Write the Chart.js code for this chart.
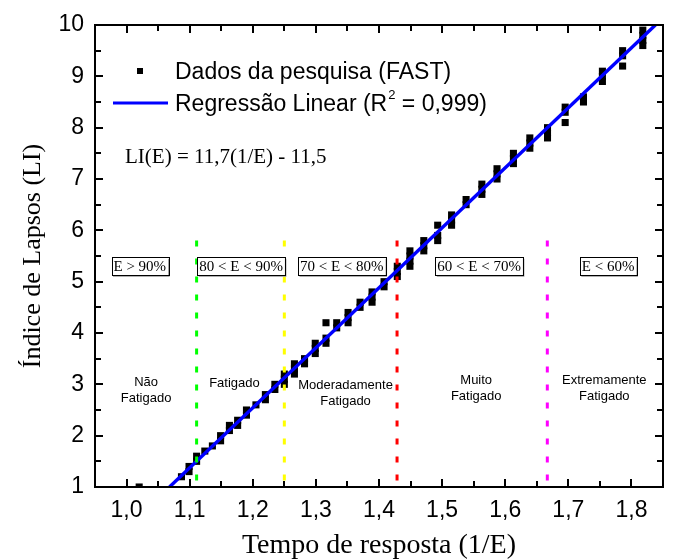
<!DOCTYPE html>
<html>
<head>
<meta charset="utf-8">
<script src="https://cdn.jsdelivr.net/npm/chart.js@4/dist/chart.umd.min.js"></script>
<style>
  body { margin: 0; background: #fff; }
  canvas { display: block; }
</style>
</head>
<body>
<canvas id="chart" width="673" height="560"></canvas>
<script>
// survey points (1/E, LI)
const pointX = [1.020, 1.087, 1.099, 1.099, 1.111, 1.111, 1.124, 1.136, 1.149, 1.149,
  1.163, 1.163, 1.176, 1.176, 1.190, 1.190, 1.205, 1.220, 1.220, 1.235, 1.235,
  1.250, 1.250, 1.250, 1.266, 1.266, 1.266, 1.282, 1.282, 1.299, 1.299, 1.299,
  1.316, 1.316, 1.316, 1.333, 1.333, 1.351, 1.351, 1.351, 1.370, 1.370,
  1.389, 1.389, 1.389, 1.408, 1.408, 1.429, 1.429, 1.429, 1.449, 1.449, 1.449, 1.449,
  1.471, 1.471, 1.471, 1.493, 1.493, 1.493, 1.515, 1.515, 1.515, 1.538, 1.538,
  1.563, 1.563, 1.563, 1.587, 1.587, 1.587, 1.613, 1.613, 1.613, 1.639, 1.639, 1.639,
  1.667, 1.667, 1.667, 1.695, 1.695, 1.695, 1.724, 1.724, 1.754, 1.754, 1.754,
  1.786, 1.786, 1.786, 1.818, 1.818, 1.818, 1.818];
const pointY = [1.0, 1.2, 1.3, 1.4, 1.5, 1.6, 1.7, 1.8, 1.9, 2.0,
  2.1, 2.2, 2.2, 2.3, 2.4, 2.5, 2.6, 2.7, 2.8, 2.9, 3.0,
  3.0, 3.1, 3.2, 3.2, 3.3, 3.4, 3.4, 3.5, 3.6, 3.7, 3.8,
  3.8, 3.9, 4.2, 4.1, 4.2, 4.2, 4.3, 4.4, 4.5, 4.6,
  4.6, 4.7, 4.8, 4.9, 5.0, 5.1, 5.2, 5.3, 5.3, 5.4, 5.5, 5.6,
  5.6, 5.7, 5.8, 5.8, 5.9, 6.1, 6.1, 6.2, 6.3, 6.5, 6.6,
  6.7, 6.8, 6.9, 7.0, 7.1, 7.2, 7.3, 7.4, 7.5, 7.6, 7.7, 7.8,
  7.8, 7.9, 8.0, 8.1, 8.3, 8.4, 8.5, 8.6, 8.9, 9.0, 9.1,
  9.2, 9.4, 9.5, 9.6, 9.7, 9.8, 9.9];

// regression line end points, read where it meets the frame
const fitX = [1.068, 1.838];
const fitY = [1.0, 10.0];

// class limits (1/E) and the top of the dotted lines
const limitX = [1.111, 1.25, 1.4286, 1.6667];
const limitTop = 5.8;

const xTicks = [1.0, 1.1, 1.2, 1.3, 1.4, 1.5, 1.6, 1.7, 1.8];
const xTickLabels = ['1,0', '1,1', '1,2', '1,3', '1,4', '1,5', '1,6', '1,7', '1,8'];
const yTicks = [1, 2, 3, 4, 5, 6, 7, 8, 9, 10];
const yTickLabels = ['1', '2', '3', '4', '5', '6', '7', '8', '9', '10'];

const boxLabels = ['E > 90%', '80 < E < 90%', '70 < E < 80%', '60 < E < 70%', 'E < 60%'];
const classLabels = [['Não', 'Fatigado'], ['Fatigado'], ['Moderadamente', 'Fatigado'],
  ['Muito', 'Fatigado'], ['Extremamente', 'Fatigado']];

const limitColors = ['#00ff00', '#ffff00', '#ff0000', '#ff00ff'];
const SANS = '"Liberation Sans", Arial, sans-serif';
const SERIF = '"Liberation Serif", "Times New Roman", serif';

const datasets = [];
limitX.forEach((v, i) => {
  datasets.push({
    type: 'line',
    data: [{x: v, y: limitTop}, {x: v, y: 1}],
    borderColor: limitColors[i],
    borderWidth: 3,
    borderDash: [6, 12],
    borderCapStyle: 'butt',
    pointRadius: 0,
    order: 0
  });
});
datasets.push({
  type: 'line',
  label: 'Regressão Linear',
  data: fitX.map((v, i) => ({x: v, y: fitY[i]})),
  borderColor: '#0000ff',
  borderWidth: 3.4,
  pointRadius: 0,
  clip: 0,
  order: 1
});
datasets.push({
  type: 'scatter',
  label: 'Dados da pesquisa (FAST)',
  data: pointX.map((v, i) => ({x: v, y: pointY[i]})),
  pointStyle: 'rect',
  pointRadius: 5,
  backgroundColor: '#000',
  borderWidth: 0,
  clip: 0,
  order: 2
});

// frame with inward ticks on all four sides
const frameTicks = {
  id: 'frameTicks',
  afterDatasetsDraw(chart) {
    const {ctx, chartArea: a, scales: {x, y}} = chart;
    ctx.save();
    ctx.strokeStyle = '#000';
    ctx.lineWidth = 2;
    ctx.beginPath();
    for (let k = 0; k <= 18; k++) {
      const v = 0.95 + k * 0.05;
      const len = k % 2 === 1 ? 8 : 6;
      const px = Math.round(x.getPixelForValue(v));
      ctx.moveTo(px, a.bottom); ctx.lineTo(px, a.bottom - len);
      ctx.moveTo(px, a.top); ctx.lineTo(px, a.top + len);
    }
    for (let k = 0; k <= 18; k++) {
      const v = 1 + k * 0.5;
      const len = k % 2 === 0 ? 8 : 6;
      const py = Math.round(y.getPixelForValue(v));
      ctx.moveTo(a.left, py); ctx.lineTo(a.left + len, py);
      ctx.moveTo(a.right, py); ctx.lineTo(a.right - len, py);
    }
    ctx.stroke();
    ctx.strokeRect(a.left, a.top, a.right - a.left, a.bottom - a.top);
    ctx.restore();
  }
};

// boxed class ranges and class names
const classText = {
  id: 'classText',
  afterDatasetsDraw(chart) {
    const {ctx, scales: {x, y}} = chart;
    const boxAt = [1.021, 1.1815, 1.341, 1.5586, 1.763];
    const nameAt = [1.031, 1.171, 1.347, 1.554, 1.757];
    const nameY = [3.03, 3.01, 2.97, 3.08, 3.08];
    ctx.save();
    ctx.font = '15px ' + SERIF;
    ctx.textAlign = 'center';
    ctx.textBaseline = 'middle';
    boxLabels.forEach((t, i) => {
      const cx = x.getPixelForValue(boxAt[i]);
      const cy = y.getPixelForValue(5.3);
      const w = ctx.measureText(t).width + 4;
      const h = 18;
      ctx.fillStyle = '#999';
      ctx.fillRect(cx - w / 2 + 1.5, cy - h / 2 + 1.5, w, h);
      ctx.fillStyle = '#fff';
      ctx.fillRect(cx - w / 2, cy - h / 2, w, h);
      ctx.strokeStyle = '#000';
      ctx.lineWidth = 1;
      ctx.strokeRect(Math.round(cx - w / 2) + 0.5, Math.round(cy - h / 2) + 0.5, Math.round(w), h);
      ctx.fillStyle = '#000';
      ctx.fillText(t, cx, cy + 1);
    });
    ctx.font = '13px ' + SANS;
    classLabels.forEach((lines, i) => {
      const cx = x.getPixelForValue(nameAt[i]);
      const cy = y.getPixelForValue(nameY[i]);
      lines.forEach((t, j) => ctx.fillText(t, cx, cy + j * 16));
    });
    ctx.restore();
  }
};

// legend and equation inside the plot
const insideLegend = {
  id: 'insideLegend',
  afterDraw(chart) {
    const {ctx, chartArea: a} = chart;
    const L = a.left, T = a.top;
    ctx.save();
    ctx.fillStyle = '#000';
    ctx.fillRect(L + 42, T + 43, 6, 6);
    ctx.strokeStyle = '#0000ff';
    ctx.lineWidth = 3;
    ctx.beginPath();
    ctx.moveTo(L + 18, T + 78);
    ctx.lineTo(L + 73, T + 78);
    ctx.stroke();
    ctx.font = '23px ' + SANS;
    ctx.textBaseline = 'alphabetic';
    ctx.textAlign = 'left';
    ctx.fillText('Dados da pesquisa (FAST)', L + 80, T + 54);
    let tx = L + 80;
    const s1 = 'Regressão Linear (R';
    ctx.fillText(s1, tx, T + 86);
    tx += ctx.measureText(s1).width;
    ctx.font = '13px ' + SANS;
    ctx.fillText('2', tx + 1, T + 74);
    tx += ctx.measureText('2').width + 1;
    ctx.font = '23px ' + SANS;
    ctx.fillText(' = 0,999)', tx, T + 86);
    ctx.font = '21px ' + SERIF;
    ctx.fillText('LI(E) = 11,7(1/E) - 11,5', L + 30, T + 138);
    ctx.restore();
  }
};

new Chart(document.getElementById('chart'), {
  data: {datasets: datasets},
  options: {
    responsive: false,
    animation: false,
    events: [],
    layout: {padding: {top: 25, right: 10, left: 0, bottom: 0}},
    plugins: {legend: {display: false}, tooltip: {enabled: false}},
    scales: {
      x: {
        type: 'linear',
        min: 0.95,
        max: 1.85,
        afterBuildTicks: s => { s.ticks = xTicks.map(v => ({value: v})); },
        afterFit: s => { s.height = 73; },
        grid: {display: false, drawTicks: false},
        border: {display: false},
        ticks: {
          callback: (v, i) => xTickLabels[i],
          font: {family: SANS, size: 23},
          color: '#000',
          padding: 10,
          maxRotation: 0,
          autoSkip: false
        },
        title: {
          display: true,
          text: 'Tempo de resposta (1/E)',
          font: {family: SERIF, size: 28},
          color: '#000',
          padding: {top: 0, bottom: -2}
        }
      },
      y: {
        type: 'linear',
        min: 1,
        max: 10,
        afterBuildTicks: s => { s.ticks = yTicks.map(v => ({value: v})); },
        afterFit: s => { s.width = 95; },
        grid: {display: false, drawTicks: false},
        border: {display: false},
        ticks: {
          callback: (v, i) => yTickLabels[i],
          font: {family: SANS, size: 23},
          color: '#000',
          padding: 11,
          autoSkip: false
        },
        title: {
          display: true,
          text: 'Índice de Lapsos (LI)',
          font: {family: SERIF, size: 26},
          color: '#000',
          padding: {top: 18, bottom: 0}
        }
      }
    }
  },
  plugins: [frameTicks, classText, insideLegend]
});
</script>
</body>
</html>
